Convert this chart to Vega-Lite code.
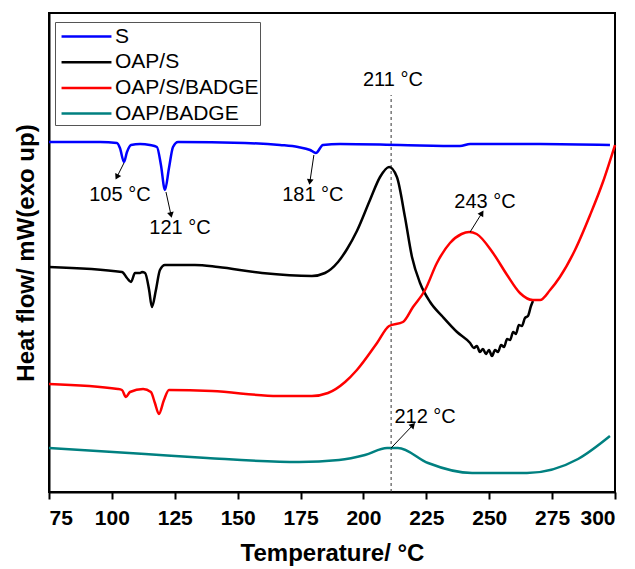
{
  "$schema": "https://vega.github.io/schema/vega-lite/v6.json",
  "width": 566,
  "height": 479,
  "autosize": {"type": "none"},
  "padding": {"left": 49, "top": 13, "right": 20, "bottom": 77},
  "background": "white",
  "config": {
    "view": {"stroke": "black", "strokeWidth": 2},
    "font": "Liberation Sans"
  },
  "datasets": {
    "curves": [
      {"series": "S", "T": 75, "hf": 350},
      {"series": "S", "T": 95.3, "hf": 350},
      {"series": "S", "T": 102.0, "hf": 349},
      {"series": "S", "T": 103.2, "hf": 344},
      {"series": "S", "T": 104.8, "hf": 330},
      {"series": "S", "T": 106.0, "hf": 340},
      {"series": "S", "T": 107.6, "hf": 347},
      {"series": "S", "T": 111.2, "hf": 348},
      {"series": "S", "T": 115.1, "hf": 347},
      {"series": "S", "T": 117.9, "hf": 345},
      {"series": "S", "T": 119.5, "hf": 327},
      {"series": "S", "T": 121.1, "hf": 302},
      {"series": "S", "T": 122.7, "hf": 324},
      {"series": "S", "T": 124.3, "hf": 345},
      {"series": "S", "T": 126.3, "hf": 350},
      {"series": "S", "T": 152.9, "hf": 349},
      {"series": "S", "T": 166.8, "hf": 347},
      {"series": "S", "T": 174.0, "hf": 345},
      {"series": "S", "T": 178.8, "hf": 342},
      {"series": "S", "T": 181.1, "hf": 339},
      {"series": "S", "T": 183.9, "hf": 347},
      {"series": "S", "T": 190.7, "hf": 348},
      {"series": "S", "T": 214.5, "hf": 347},
      {"series": "S", "T": 238.4, "hf": 346},
      {"series": "S", "T": 242.4, "hf": 348},
      {"series": "S", "T": 270.2, "hf": 348},
      {"series": "S", "T": 298.0, "hf": 347},

      {"series": "OAP/S", "T": 75, "hf": 225},
      {"series": "OAP/S", "T": 104.0, "hf": 220},
      {"series": "OAP/S", "T": 106.0, "hf": 214},
      {"series": "OAP/S", "T": 107.6, "hf": 210},
      {"series": "OAP/S", "T": 109.2, "hf": 219},
      {"series": "OAP/S", "T": 111.2, "hf": 219},
      {"series": "OAP/S", "T": 112.0, "hf": 220},
      {"series": "OAP/S", "T": 113.2, "hf": 219},
      {"series": "OAP/S", "T": 114.8, "hf": 202},
      {"series": "OAP/S", "T": 115.9, "hf": 185},
      {"series": "OAP/S", "T": 117.5, "hf": 202},
      {"series": "OAP/S", "T": 119.1, "hf": 222},
      {"series": "OAP/S", "T": 121.1, "hf": 227},
      {"series": "OAP/S", "T": 133.0, "hf": 227},
      {"series": "OAP/S", "T": 142.2, "hf": 225},
      {"series": "OAP/S", "T": 159.7, "hf": 219},
      {"series": "OAP/S", "T": 179.5, "hf": 216},
      {"series": "OAP/S", "T": 184.7, "hf": 219},
      {"series": "OAP/S", "T": 189.9, "hf": 230},
      {"series": "OAP/S", "T": 193.5, "hf": 243},
      {"series": "OAP/S", "T": 197.4, "hf": 261},
      {"series": "OAP/S", "T": 202.6, "hf": 292},
      {"series": "OAP/S", "T": 206.6, "hf": 315},
      {"series": "OAP/S", "T": 210.2, "hf": 325},
      {"series": "OAP/S", "T": 213.3, "hf": 315},
      {"series": "OAP/S", "T": 216.5, "hf": 275},
      {"series": "OAP/S", "T": 219.3, "hf": 235},
      {"series": "OAP/S", "T": 222.5, "hf": 209},
      {"series": "OAP/S", "T": 226.5, "hf": 190},
      {"series": "OAP/S", "T": 231.6, "hf": 175},
      {"series": "OAP/S", "T": 237.2, "hf": 160},
      {"series": "OAP/S", "T": 242.4, "hf": 149},
      {"series": "OAP/S", "T": 243.9, "hf": 144},
      {"series": "OAP/S", "T": 245.1, "hf": 146},
      {"series": "OAP/S", "T": 246.3, "hf": 140},
      {"series": "OAP/S", "T": 247.5, "hf": 143},
      {"series": "OAP/S", "T": 248.7, "hf": 138},
      {"series": "OAP/S", "T": 249.9, "hf": 142},
      {"series": "OAP/S", "T": 251.1, "hf": 136},
      {"series": "OAP/S", "T": 252.3, "hf": 142},
      {"series": "OAP/S", "T": 253.5, "hf": 140},
      {"series": "OAP/S", "T": 254.7, "hf": 147},
      {"series": "OAP/S", "T": 255.9, "hf": 145},
      {"series": "OAP/S", "T": 257.1, "hf": 153},
      {"series": "OAP/S", "T": 258.3, "hf": 152},
      {"series": "OAP/S", "T": 259.5, "hf": 160},
      {"series": "OAP/S", "T": 260.6, "hf": 158},
      {"series": "OAP/S", "T": 261.8, "hf": 167},
      {"series": "OAP/S", "T": 263.0, "hf": 166},
      {"series": "OAP/S", "T": 264.2, "hf": 174},
      {"series": "OAP/S", "T": 265.4, "hf": 176},
      {"series": "OAP/S", "T": 266.6, "hf": 186},
      {"series": "OAP/S", "T": 267.4, "hf": 191},

      {"series": "OAP/S/BADGE", "T": 75, "hf": 108},
      {"series": "OAP/S/BADGE", "T": 102.4, "hf": 103},
      {"series": "OAP/S/BADGE", "T": 104.0, "hf": 102},
      {"series": "OAP/S/BADGE", "T": 105.6, "hf": 95},
      {"series": "OAP/S/BADGE", "T": 107.2, "hf": 100},
      {"series": "OAP/S/BADGE", "T": 112.4, "hf": 103},
      {"series": "OAP/S/BADGE", "T": 115.5, "hf": 100},
      {"series": "OAP/S/BADGE", "T": 117.1, "hf": 89},
      {"series": "OAP/S/BADGE", "T": 118.7, "hf": 78},
      {"series": "OAP/S/BADGE", "T": 120.7, "hf": 92},
      {"series": "OAP/S/BADGE", "T": 122.7, "hf": 102},
      {"series": "OAP/S/BADGE", "T": 139.8, "hf": 101},
      {"series": "OAP/S/BADGE", "T": 166.0, "hf": 96},
      {"series": "OAP/S/BADGE", "T": 179.5, "hf": 96},
      {"series": "OAP/S/BADGE", "T": 185.9, "hf": 99},
      {"series": "OAP/S/BADGE", "T": 192.7, "hf": 110},
      {"series": "OAP/S/BADGE", "T": 197.4, "hf": 122},
      {"series": "OAP/S/BADGE", "T": 205.4, "hf": 149},
      {"series": "OAP/S/BADGE", "T": 210.2, "hf": 166},
      {"series": "OAP/S/BADGE", "T": 215.7, "hf": 170},
      {"series": "OAP/S/BADGE", "T": 219.7, "hf": 185},
      {"series": "OAP/S/BADGE", "T": 224.5, "hf": 202},
      {"series": "OAP/S/BADGE", "T": 229.2, "hf": 229},
      {"series": "OAP/S/BADGE", "T": 234.4, "hf": 249},
      {"series": "OAP/S/BADGE", "T": 239.0, "hf": 258},
      {"series": "OAP/S/BADGE", "T": 242.0, "hf": 260},
      {"series": "OAP/S/BADGE", "T": 245.0, "hf": 258},
      {"series": "OAP/S/BADGE", "T": 251.5, "hf": 239},
      {"series": "OAP/S/BADGE", "T": 257.1, "hf": 217},
      {"series": "OAP/S/BADGE", "T": 262.2, "hf": 199},
      {"series": "OAP/S/BADGE", "T": 267.4, "hf": 192},
      {"series": "OAP/S/BADGE", "T": 270.2, "hf": 192},
      {"series": "OAP/S/BADGE", "T": 274.2, "hf": 202},
      {"series": "OAP/S/BADGE", "T": 278.1, "hf": 215},
      {"series": "OAP/S/BADGE", "T": 284.1, "hf": 242},
      {"series": "OAP/S/BADGE", "T": 290.1, "hf": 277},
      {"series": "OAP/S/BADGE", "T": 295.2, "hf": 310},
      {"series": "OAP/S/BADGE", "T": 300.0, "hf": 347},

      {"series": "OAP/BADGE", "T": 75, "hf": 44},
      {"series": "OAP/BADGE", "T": 113.2, "hf": 38},
      {"series": "OAP/BADGE", "T": 137.8, "hf": 34},
      {"series": "OAP/BADGE", "T": 174.4, "hf": 30},
      {"series": "OAP/BADGE", "T": 190.3, "hf": 32},
      {"series": "OAP/BADGE", "T": 200.6, "hf": 37},
      {"series": "OAP/BADGE", "T": 209.4, "hf": 44},
      {"series": "OAP/BADGE", "T": 213.7, "hf": 44},
      {"series": "OAP/BADGE", "T": 225.7, "hf": 29},
      {"series": "OAP/BADGE", "T": 243.2, "hf": 19},
      {"series": "OAP/BADGE", "T": 265.0, "hf": 19},
      {"series": "OAP/BADGE", "T": 285.3, "hf": 33},
      {"series": "OAP/BADGE", "T": 298.0, "hf": 56}
    ],
    "notes": [
      {"label": "105 °C", "T": 103.2, "hf": 297},
      {"label": "121 °C", "T": 127.1, "hf": 264},
      {"label": "181 °C", "T": 179.9, "hf": 297},
      {"label": "211 °C", "T": 211.7, "hf": 412},
      {"label": "243 °C", "T": 248.3, "hf": 290},
      {"label": "212 °C", "T": 224.5, "hf": 75}
    ],
    "arrows": [
      {"id": "a105", "T": 104.8, "hf": 329, "T2": 102.0, "hf2": 315},
      {"id": "a121", "T": 121.5, "hf": 300, "T2": 123.5, "hf2": 277},
      {"id": "a181", "T": 180.3, "hf": 337, "T2": 178.7, "hf2": 310},
      {"id": "a243", "T": 242.4, "hf": 260, "T2": 247.1, "hf2": 279},
      {"id": "a212", "T": 211.0, "hf": 44, "T2": 219.7, "hf2": 67}
    ],
    "marker": [
      {"T": 211, "hf": 0, "hf2": 397}
    ]
  },
  "layer": [
    {
      "data": {"name": "marker"},
      "mark": {"type": "rule", "color": "#333333", "strokeWidth": 1, "strokeDash": [3, 3]},
      "encoding": {
        "x": {"field": "T", "type": "quantitative"},
        "y": {"field": "hf", "type": "quantitative"},
        "y2": {"field": "hf2"}
      }
    },
    {
      "data": {"name": "curves"},
      "mark": {"type": "line", "strokeWidth": 2.5, "interpolate": "monotone"},
      "encoding": {
        "x": {
          "field": "T", "type": "quantitative",
          "scale": {"domain": [75, 300], "nice": false, "zero": false},
          "axis": {
            "values": [75, 87.5, 100, 112.5, 125, 137.5, 150, 162.5, 175, 187.5, 200, 212.5, 225, 237.5, 250, 262.5, 275, 287.5, 300],
            "labelExpr": "datum.value % 25 === 0 ? datum.label : ''",
            "labelOverlap": false,
            "grid": false,
            "domainColor": "black", "domainWidth": 2,
            "tickColor": "black", "tickWidth": 2,
            "tickSize": {"condition": {"test": "datum.value % 25 !== 0", "value": 4}, "value": 7},
            "labelFontSize": 21, "labelFontWeight": "bold", "labelColor": "black",
            "labelPadding": 8, "labelFont": "Liberation Sans",
            "title": "Temperature/ °C",
            "titleFontSize": 24, "titleFontWeight": "bold", "titleColor": "black",
            "titleFont": "Liberation Sans", "titlePadding": 13
          }
        },
        "y": {
          "field": "hf", "type": "quantitative",
          "scale": {"domain": [0, 479], "nice": false, "zero": false},
          "axis": {
            "ticks": false, "labels": false, "grid": false,
            "domainColor": "black", "domainWidth": 2,
            "title": "Heat flow/ mW(exo up)",
            "titleFontSize": 24, "titleFontWeight": "bold", "titleColor": "black",
            "titleFont": "Liberation Sans", "titlePadding": 11
          }
        },
        "color": {
          "field": "series", "type": "nominal",
          "scale": {"domain": ["S", "OAP/S", "OAP/S/BADGE", "OAP/BADGE"], "range": ["#0000ff", "#000000", "#ff0000", "#008080"]},
          "legend": {
            "title": null,
            "orient": "none", "legendX": 6, "legendY": 9,
            "symbolType": "M-2.08,0H2.08",
            "symbolSize": 576,
            "symbolStrokeWidth": 2.5,
            "symbolOffset": 17,
            "labelOffset": 15,
            "labelFontSize": 21, "labelFont": "Liberation Sans", "labelColor": "black",
            "padding": 1, "rowPadding": 1.7,
            "strokeColor": "#555555"
          }
        }
      }
    },
    {
      "data": {"name": "arrows"},
      "mark": {"type": "rule", "color": "black", "strokeWidth": 1},
      "encoding": {
        "x": {"field": "T", "type": "quantitative"},
        "y": {"field": "hf", "type": "quantitative"},
        "x2": {"field": "T2"},
        "y2": {"field": "hf2"}
      }
    },
    {
      "data": {"name": "arrows"},
      "transform": [{"filter": "datum.id === 'a105'"}],
      "mark": {"type": "point", "shape": "triangle-up", "filled": true, "color": "black", "size": 45, "opacity": 1, "angle": 206.6},
      "encoding": {"x": {"field": "T2", "type": "quantitative"}, "y": {"field": "hf2", "type": "quantitative"}}
    },
    {
      "data": {"name": "arrows"},
      "transform": [{"filter": "datum.id === 'a121'"}],
      "mark": {"type": "point", "shape": "triangle-up", "filled": true, "color": "black", "size": 45, "opacity": 1, "angle": 167.7},
      "encoding": {"x": {"field": "T2", "type": "quantitative"}, "y": {"field": "hf2", "type": "quantitative"}}
    },
    {
      "data": {"name": "arrows"},
      "transform": [{"filter": "datum.id === 'a181'"}],
      "mark": {"type": "point", "shape": "triangle-up", "filled": true, "color": "black", "size": 45, "opacity": 1, "angle": 188.4},
      "encoding": {"x": {"field": "T2", "type": "quantitative"}, "y": {"field": "hf2", "type": "quantitative"}}
    },
    {
      "data": {"name": "arrows"},
      "transform": [{"filter": "datum.id === 'a243'"}],
      "mark": {"type": "point", "shape": "triangle-up", "filled": true, "color": "black", "size": 45, "opacity": 1, "angle": 32.3},
      "encoding": {"x": {"field": "T2", "type": "quantitative"}, "y": {"field": "hf2", "type": "quantitative"}}
    },
    {
      "data": {"name": "arrows"},
      "transform": [{"filter": "datum.id === 'a212'"}],
      "mark": {"type": "point", "shape": "triangle-up", "filled": true, "color": "black", "size": 45, "opacity": 1, "angle": 43.7},
      "encoding": {"x": {"field": "T2", "type": "quantitative"}, "y": {"field": "hf2", "type": "quantitative"}}
    },
    {
      "data": {"name": "notes"},
      "mark": {"type": "text", "fontSize": 20, "font": "Liberation Sans", "color": "black", "align": "center", "baseline": "middle"},
      "encoding": {
        "x": {"field": "T", "type": "quantitative"},
        "y": {"field": "hf", "type": "quantitative"},
        "text": {"field": "label"}
      }
    }
  ]
}
